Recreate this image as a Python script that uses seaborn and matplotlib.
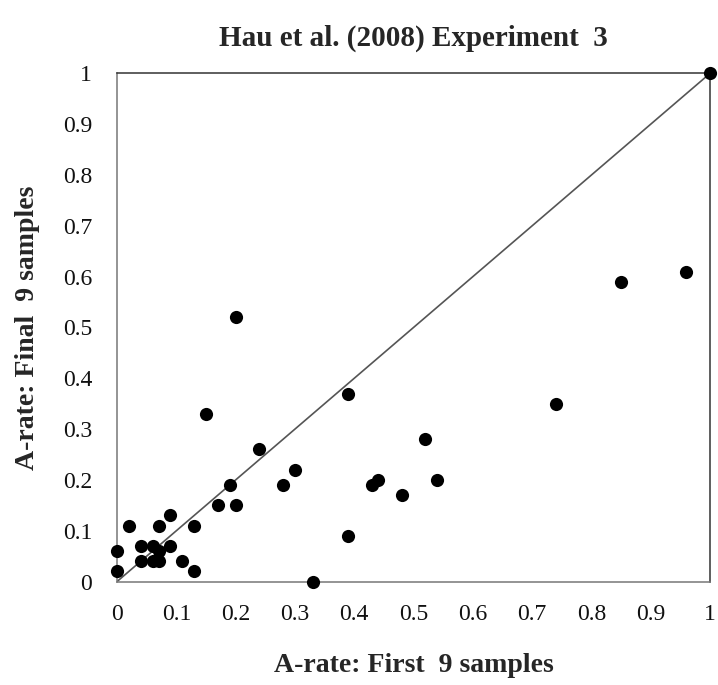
import matplotlib
matplotlib.use("Agg")
import matplotlib.pyplot as plt
import seaborn as sns
import pandas as pd

first9 = [0.00, 0.00, 0.02, 0.04, 0.04, 0.06, 0.06, 0.07, 0.07, 0.07,
          0.09, 0.09, 0.11, 0.13, 0.13, 0.15, 0.17, 0.19, 0.20, 0.20,
          0.24, 0.28, 0.30, 0.33, 0.39, 0.39, 0.43, 0.44, 0.48, 0.52,
          0.54, 0.74, 0.85, 0.96, 1.00]
final9 = [0.02, 0.06, 0.11, 0.07, 0.04, 0.07, 0.04, 0.06, 0.04, 0.11,
          0.13, 0.07, 0.04, 0.11, 0.02, 0.33, 0.15, 0.19, 0.15, 0.52,
          0.26, 0.19, 0.22, 0.00, 0.37, 0.09, 0.19, 0.20, 0.17, 0.28,
          0.20, 0.35, 0.59, 0.61, 1.00]
ticks = [0, 0.1, 0.2, 0.3, 0.4, 0.5, 0.6, 0.7, 0.8, 0.9, 1]
tick_labels = ["0", "0.1", "0.2", "0.3", "0.4", "0.5", "0.6", "0.7", "0.8", "0.9", "1"]

df = pd.DataFrame({"first": first9, "final": final9})

sns.set_style("white")
plt.rcParams["font.family"] = ["Liberation Serif", "DejaVu Serif"]

fig = plt.figure(figsize=(7.18, 6.85), dpi=100)
ax = fig.add_axes([0.163, 0.151, 0.826, 0.742])

ax.plot([0, 1], [0, 1], color="#555555", lw=1.2, zorder=1)
sns.scatterplot(data=df, x="first", y="final", ax=ax, color="black",
                s=90, edgecolor="black", linewidth=0, zorder=3, clip_on=False)

ax.set_xlim(0, 1)
ax.set_ylim(0, 1)
ax.set_xticks(ticks)
ax.set_xticklabels(tick_labels, fontsize=17, color="#111111")
ax.set_yticks(ticks)
ax.set_yticklabels(tick_labels, fontsize=17, color="#111111")
ax.tick_params(axis="x", length=0, pad=16)
ax.tick_params(axis="y", length=0, pad=18)
for name, sp in ax.spines.items():
    sp.set_color("#333333" if name in ("top", "right") else "#777777")
    sp.set_linewidth(1.1)

ax.set_xlabel("A-rate: First  9 samples", fontsize=20, fontweight="bold", labelpad=20)
ax.set_ylabel("A-rate: Final  9 samples", fontsize=20, fontweight="bold", labelpad=16)
ax.set_title("Hau et al. (2008) Experiment  3", fontsize=21, fontweight="bold", pad=20)

fig.savefig("out.png", dpi=100)
